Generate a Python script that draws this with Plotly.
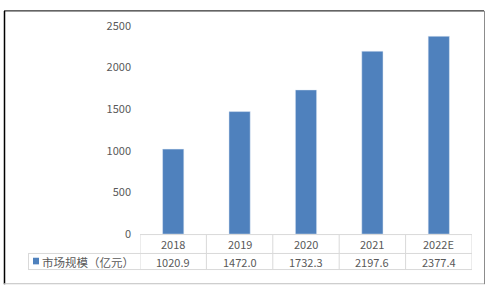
import plotly.graph_objects as go

categories = ["2018", "2019", "2020", "2021", "2022E"]
values = [1020.9, 1472.0, 1732.3, 2197.6, 2377.4]
series_name = "市场规模（亿元）"
y_ticks = [0, 500, 1000, 1500, 2000, 2500]

W, H = 491, 295
BAR = "#4F81BD"
TXT = "#595959"
GRID = "#D9D9D9"
FONT = "Noto Sans CJK SC, Liberation Sans, sans-serif"


def px(x):
    return x / W


def py(y):
    return 1 - y / H


fig = go.Figure()
fig.add_trace(go.Bar(x=list(range(len(categories))), y=values, marker_color=BAR,
                     width=0.32, name=series_name, showlegend=False))

shapes = []
annotations = []
n = len(categories)
# table vertical lines at category boundaries
for i in range(n + 1):
    shapes.append(dict(type="line", xref="x", yref="paper", x0=i - 0.5, x1=i - 0.5,
                       y0=py(238.5), y1=py(275.5), line=dict(color=GRID, width=1)))
# left part of table
shapes.append(dict(type="line", xref="paper", yref="paper", x0=px(28.5), x1=px(28.5),
                   y0=py(258.5), y1=py(275.5), line=dict(color=GRID, width=1)))
# horizontal lines
shapes.append(dict(type="line", xref="paper", yref="paper", x0=px(140), x1=px(472),
                   y0=py(238.5), y1=py(238.5), line=dict(color=GRID, width=1)))
for yy in (258.5, 275.5):
    shapes.append(dict(type="line", xref="paper", yref="paper", x0=px(28), x1=px(472),
                       y0=py(yy), y1=py(yy), line=dict(color=GRID, width=1)))
# legend key
shapes.append(dict(type="rect", xref="paper", yref="paper", x0=px(33), x1=px(39),
                   y0=py(270), y1=py(263), fillcolor=BAR, line=dict(width=0)))
# outer frame
shapes.append(dict(type="line", xref="paper", yref="paper", x0=px(4.5), x1=px(4.5),
                   y0=py(2), y1=py(291), line=dict(color="#000000", width=1.5)))
shapes.append(dict(type="line", xref="paper", yref="paper", x0=px(4), x1=px(484),
                   y0=py(2), y1=py(2), line=dict(color="#000000", width=1)))
shapes.append(dict(type="line", xref="paper", yref="paper", x0=px(484.5), x1=px(484.5),
                   y0=py(2), y1=py(291), line=dict(color="#8C8C8C", width=1)))
shapes.append(dict(type="line", xref="paper", yref="paper", x0=px(4), x1=px(484),
                   y0=py(290.5), y1=py(290.5), line=dict(color="#BFBFBF", width=1)))

for i, c in enumerate(categories):
    annotations.append(dict(x=i, xref="x", y=py(248.5), yref="paper", text=c,
                            showarrow=False, font=dict(size=11, color=TXT, family=FONT),
                            xanchor="center", yanchor="middle"))
    annotations.append(dict(x=i, xref="x", y=py(267), yref="paper", text=f"{values[i]:.1f}",
                            showarrow=False, font=dict(size=11, color=TXT, family=FONT),
                            xanchor="center", yanchor="middle"))
annotations.append(dict(x=px(40), xref="paper", y=py(267), yref="paper", text=series_name,
                        showarrow=False, font=dict(size=11.5, color=TXT, family=FONT),
                        xanchor="left", yanchor="middle"))

fig.update_layout(
    width=W, height=H, margin=dict(l=0, r=0, t=0, b=0),
    paper_bgcolor="white", plot_bgcolor="white",
    xaxis=dict(domain=[px(140), px(472)], range=[-0.5, n - 0.5], showticklabels=False,
               showgrid=False, zeroline=False, showline=False, ticks=""),
    yaxis=dict(domain=[py(238), py(18)], range=[0, 2500], tickvals=y_ticks,
               showgrid=False, zeroline=False, showline=False, ticks="",
               ticklabelstandoff=8, tickfont=dict(size=11, color=TXT, family=FONT)),
    shapes=shapes, annotations=annotations, bargap=0.68,
)

fig.write_html("out.html",
               post_script="document.body.style.margin='0';document.body.style.overflow='hidden';")
